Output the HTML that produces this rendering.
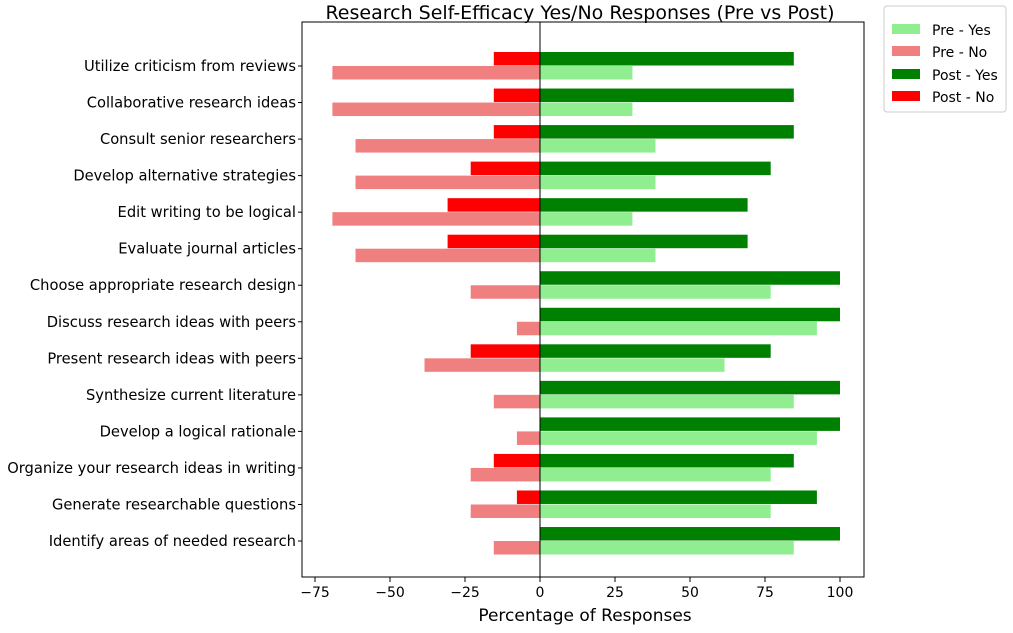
<!DOCTYPE html>
<html><head><meta charset="utf-8"><style>
body{margin:0;background:#fff;font-family:"Liberation Sans","DejaVu Sans",sans-serif;}
svg text{font-family:"DejaVu Sans","Liberation Sans",sans-serif;}
</style></head><body>
<svg id="chart" width="1013" height="628" xmlns="http://www.w3.org/2000/svg">
<text x="580" y="19" font-size="19" text-anchor="middle">Research Self-Efficacy Yes/No Responses (Pre vs Post)</text>
<g id="bars"></g>
<rect x="302" y="22" width="562" height="555" fill="none" stroke="#000" stroke-width="1"/>
<line x1="540" y1="22" x2="540" y2="577" stroke="#000" stroke-width="1"/>
<g id="xticks"></g><g id="yticks"></g>
<text x="585" y="621" font-size="17" text-anchor="middle">Percentage of Responses</text>
<g>
<rect x="884" y="6" width="122" height="106" fill="#fff" stroke="#ccc" rx="3"/>
<rect x="892" y="24" width="28" height="10" fill="#90ee90"/>
<text x="932" y="35" font-size="14">Pre - Yes</text>
<rect x="892" y="46" width="28" height="10" fill="#f08080"/>
<text x="932" y="57" font-size="14">Pre - No</text>
<rect x="892" y="69" width="28" height="10" fill="#008000"/>
<text x="932" y="80" font-size="14">Post - Yes</text>
<rect x="892" y="91" width="28" height="10" fill="#ff0000"/>
<text x="932" y="102" font-size="14">Post - No</text>
</g>
</svg>
<script>
const categories=["Utilize criticism from reviews","Collaborative research ideas","Consult senior researchers","Develop alternative strategies","Edit writing to be logical","Evaluate journal articles","Choose appropriate research design","Discuss research ideas with peers","Present research ideas with peers","Synthesize current literature","Develop a logical rationale","Organize your research ideas in writing","Generate researchable questions","Identify areas of needed research"];
const postYes=[84.6,84.6,84.6,76.9,69.2,69.2,100,100,76.9,100,100,84.6,92.3,100];
const postNo=[-15.4,-15.4,-15.4,-23.1,-30.8,-30.8,0,0,-23.1,0,0,-15.4,-7.7,0];
const preYes=[30.8,30.8,38.5,38.5,30.8,38.5,76.9,92.3,61.5,84.6,92.3,76.9,76.9,84.6];
const preNo=[-69.2,-69.2,-61.5,-61.5,-69.2,-61.5,-23.1,-7.7,-38.5,-15.4,-7.7,-23.1,-23.1,-15.4];
const xTicks=[-75,-50,-25,0,25,50,75,100];
const xTickLabels=["\u221275","\u221250","\u221225","0","25","50","75","100"];
const NS="http://www.w3.org/2000/svg";
const xs=v=>540+v*3.0;
const ys=i=>66+i*36.54;
const bars=document.getElementById('bars');
function bar(v,i,off,color,name){
  const r=document.createElementNS(NS,'rect');
  const a=xs(0),b=xs(v);
  r.setAttribute('x',Math.min(a,b));r.setAttribute('width',Math.abs(b-a));
  r.setAttribute('y',ys(i)+off);r.setAttribute('height',13.5);r.setAttribute('fill',color);
  
  
  bars.appendChild(r);
}
categories.forEach((c,i)=>{
  bar(preYes[i],i,0,'#90ee90','bar-pre-yes');
  bar(preNo[i],i,0,'#f08080','bar-pre-no');
  bar(postYes[i],i,-14,'#008000','bar-post-yes');
  bar(postNo[i],i,-14,'#ff0000','bar-post-no');
  const t=document.createElementNS(NS,'text');
  t.setAttribute('x',296);t.setAttribute('y',ys(i)+5);t.setAttribute('font-size',14.7);t.setAttribute('text-anchor','end');
  t.textContent=c;
  
  
  document.getElementById('yticks').appendChild(t);
  const l=document.createElementNS(NS,'line');
  l.setAttribute('x1',298);l.setAttribute('x2',302);l.setAttribute('y1',ys(i));l.setAttribute('y2',ys(i));l.setAttribute('stroke','#000');
  
  
  document.getElementById('yticks').appendChild(l);
});
xTicks.forEach((v,k)=>{
  const g=document.getElementById('xticks');
  const l=document.createElementNS(NS,'line');
  l.setAttribute('x1',xs(v));l.setAttribute('x2',xs(v));l.setAttribute('y1',577);l.setAttribute('y2',582);l.setAttribute('stroke','#000');
  
  
  g.appendChild(l);
  const t=document.createElementNS(NS,'text');
  t.setAttribute('x',xs(v));t.setAttribute('y',597);t.setAttribute('font-size',14);t.setAttribute('text-anchor','middle');
  t.textContent=xTickLabels[k];
  
  
  g.appendChild(t);
});
</script>
</body></html>
